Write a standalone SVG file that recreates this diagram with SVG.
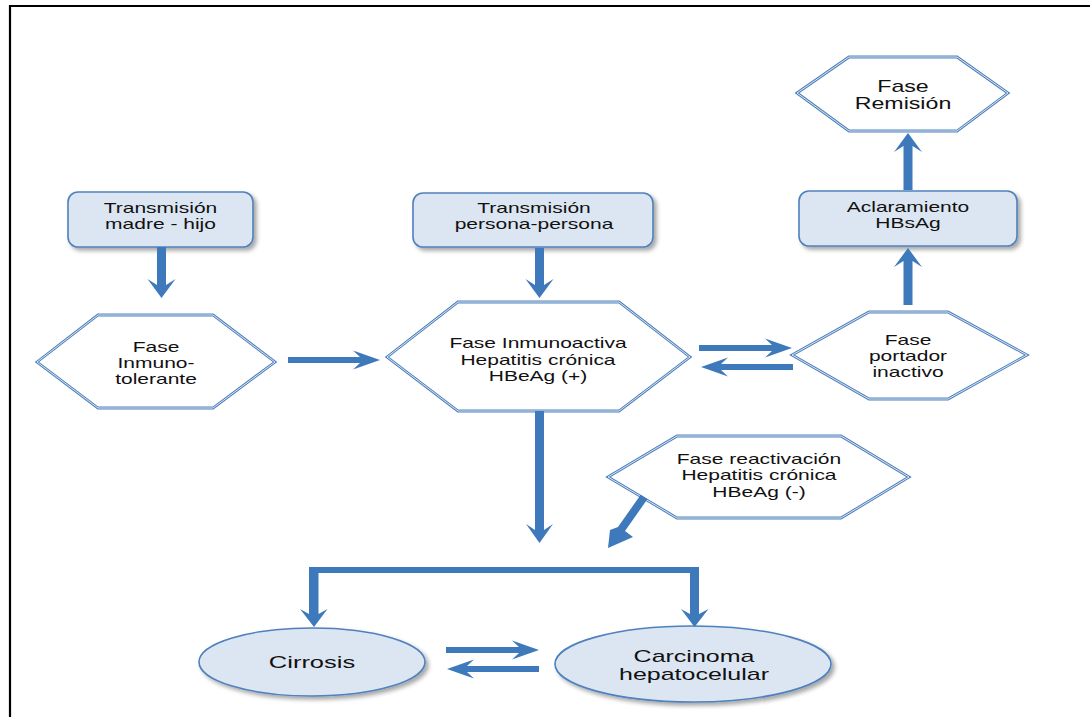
<svg xmlns="http://www.w3.org/2000/svg" width="1090" height="717" viewBox="0 0 1090 717">
<style>
.t{font-family:"Liberation Sans",Arial,sans-serif;fill:#111;text-anchor:middle}
.s14{font-size:14px}
.s16{font-size:16px}
.s17{font-size:17px}
.box{fill:#dce6f2;stroke:#4f81bd;stroke-width:1.6}
.hex{fill:#fff;stroke:#4f81bd;stroke-width:2.8;stroke-linejoin:miter}
.hexin{fill:none;stroke:#fff;stroke-width:0.8}
.arr{fill:#3d79bb;stroke:none}
.frame{fill:none;stroke:#000;stroke-width:2.2}
</style>
<defs>
<filter id="sh" x="-10%" y="-10%" width="125%" height="135%">
<feDropShadow dx="3" dy="3" stdDeviation="2" flood-color="#000" flood-opacity="0.35"/>
</filter>
</defs>
<rect width="1090" height="717" fill="#fff"/>
<path class="frame" d="M1090,6 H10 V717"/>

<g id="n-madre-hijo">
<rect class="box" x="68" y="192" width="185" height="55" rx="10" filter="url(#sh)"/>
<text class="t s14" transform="translate(160.5 0) scale(1.5 1)"><tspan x="0" y="213">Transmisión</tspan><tspan x="0" y="229">madre - hijo</tspan></text>
</g>

<g id="n-persona">
<rect class="box" x="413" y="193" width="240" height="54" rx="10" filter="url(#sh)"/>
<text class="t s14" transform="translate(534 0) scale(1.5 1)"><tspan x="0" y="213">Transmisión</tspan><tspan x="0" y="229">persona-persona</tspan></text>
</g>

<g id="n-aclaramiento">
<rect class="box" x="799" y="191" width="218" height="55" rx="10" filter="url(#sh)"/>
<text class="t s14" transform="translate(908 0) scale(1.5 1)"><tspan x="0" y="212">Aclaramiento</tspan><tspan x="0" y="228">HBsAg</tspan></text>
</g>

<g id="n-remision">
<polygon class="hex" points="797,93 849,57 957,57 1008,93 957,131 849,131"/>
<polygon class="hexin" points="797,93 849,57 957,57 1008,93 957,131 849,131"/>
<text class="t s16" transform="translate(903 0) scale(1.45 1)"><tspan x="0" y="92">Fase</tspan><tspan x="0" y="109">Remisión</tspan></text>
</g>

<g id="n-inmunotolerante">
<polygon class="hex" points="37,362 98,315 213,315 275,362 213,408 98,408"/>
<polygon class="hexin" points="37,362 98,315 213,315 275,362 213,408 98,408"/>
<text class="t s14" transform="translate(156 0) scale(1.5 1)"><tspan x="0" y="352">Fase</tspan><tspan x="0" y="368">Inmuno-</tspan><tspan x="0" y="384">tolerante</tspan></text>
</g>

<g id="n-inmunoactiva">
<polygon class="hex" points="387,357 458,302 619,302 690,357 619,411 458,411"/>
<polygon class="hexin" points="387,357 458,302 619,302 690,357 619,411 458,411"/>
<text class="t s14" transform="translate(538 0) scale(1.5 1)"><tspan x="0" y="348">Fase Inmunoactiva</tspan><tspan x="0" y="365">Hepatitis crónica</tspan><tspan x="0" y="381">HBeAg (+)</tspan></text>
</g>

<g id="n-portador">
<polygon class="hex" points="792,355 869,312 948,312 1027,355 948,399 869,399"/>
<polygon class="hexin" points="792,355 869,312 948,312 1027,355 948,399 869,399"/>
<text class="t s14" transform="translate(908 0) scale(1.5 1)"><tspan x="0" y="345">Fase</tspan><tspan x="0" y="361">portador</tspan><tspan x="0" y="377">inactivo</tspan></text>
</g>

<g id="n-reactivacion">
<polygon class="hex" points="608,477 677,436 841,436 909,477 841,518 677,518"/>
<polygon class="hexin" points="608,477 677,436 841,436 909,477 841,518 677,518"/>
<text class="t s14" transform="translate(759 0) scale(1.5 1)"><tspan x="0" y="464">Fase reactivación</tspan><tspan x="0" y="480">Hepatitis crónica</tspan><tspan x="0" y="497">HBeAg (-)</tspan></text>
</g>

<g id="n-cirrosis">
<ellipse class="box" cx="312" cy="662" rx="113" ry="34" filter="url(#sh)"/>
<text class="t s17" transform="translate(312 0) scale(1.5 1)"><tspan x="0" y="668">Cirrosis</tspan></text>
</g>

<g id="n-carcinoma">
<ellipse class="box" cx="693" cy="664" rx="138" ry="38" filter="url(#sh)"/>
<text class="t s17" transform="translate(694 0) scale(1.47 1)"><tspan x="0" y="662">Carcinoma</tspan><tspan x="0" y="680">hepatocelular</tspan></text>
</g>

<g id="connectors">
<!-- vertical down arrows -->
<polygon class="arr" points="157,247 166,247 166,285 175.5,279 161.5,298 147.5,279 157,285"/>
<polygon class="arr" points="535,248 544,248 544,285 553.5,279 539.5,298 525.5,279 535,285"/>
<polygon class="arr" points="535,411 544,411 544,530 553,524 539.5,543 526,524 535,530"/>
<!-- vertical up arrows -->
<polygon class="arr" points="903.5,305 912.5,305 912.5,261 922,267 908,248 894,267 903.5,261"/>
<polygon class="arr" points="903.5,190 912.5,190 912.5,146 922,152 908,133 894,152 903.5,146"/>
<!-- horizontal arrows -->
<polygon class="arr" points="288,357 360,357 353,350.5 380,360 353,369.5 360,363 288,363"/>
<polygon class="arr" points="699,345 772,345 765,338.5 792,348 765,357.5 772,351 699,351"/>
<polygon class="arr" points="793,364 721,364 728,357.5 701,367 728,376.5 721,370 793,370"/>
<polygon class="arr" points="446,647 519,647 512,640.5 539,650 512,659.5 519,653 446,653"/>
<polygon class="arr" points="539,666 467,666 474,659.5 447,669 474,678.5 467,672 539,672"/>
<!-- diagonal from reactivacion -->
<polygon class="arr" points="640.7,494.7 647.3,499.3 625,531 633,537 608,548 610,530 618,527"/>
<!-- bracket to cirrosis and carcinoma -->
<path class="arr" d="M309,567 H699 V614 L708.5,609 L694.5,627 L681,609 L690,614 V573 H318.5 V614 L327.5,609 L314,627 L300,609 L309,614 Z"/>
</g>
</svg>
